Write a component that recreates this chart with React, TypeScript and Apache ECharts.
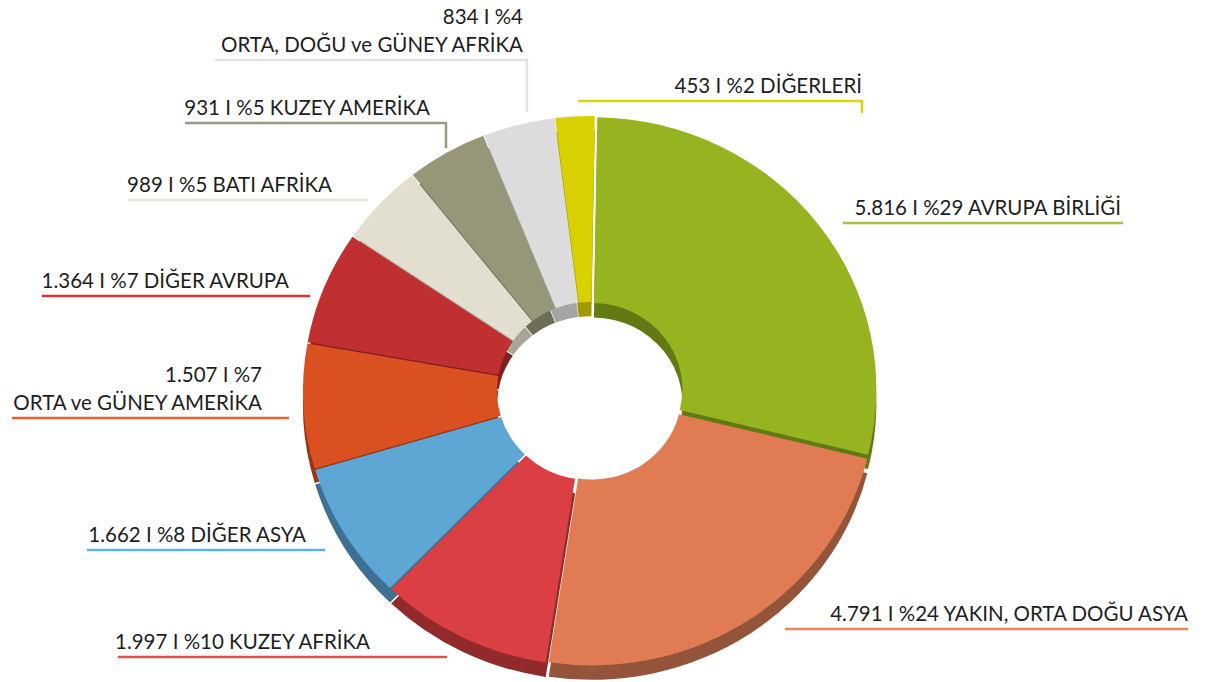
import React, { useEffect, useRef } from "react";
import * as echarts from "echarts";

const names = [
  "AVRUPA BİRLİĞİ",
  "YAKIN, ORTA DOĞU ASYA",
  "KUZEY AFRİKA",
  "DİĞER ASYA",
  "ORTA ve GÜNEY AMERİKA",
  "DİĞER AVRUPA",
  "BATI AFRİKA",
  "KUZEY AMERİKA",
  "ORTA, DOĞU ve GÜNEY AFRİKA",
  "DİĞERLERİ",
];
const values = [5816, 4791, 1997, 1662, 1507, 1364, 989, 931, 834, 453];
const twoLine = [false, false, false, false, true, false, false, false, true, false];

const faceColors = ["#95B420", "#E07B53", "#DA4043", "#5EA7D5", "#DB5020", "#C03030", "#E3DFD0", "#979679", "#DCDCDC", "#D9D000"];
const sideColors = ["#627A14", "#93543A", "#922A2B", "#3F7093", "#963613", "#7F2020", "#A8A596", "#6E6E56", "#A5A5A5", "#A09900"];
const lineColors = ["#A6C43A", "#E8865E", "#E05050", "#5AB4E6", "#E86030", "#D03538", "#EAE6D6", "#9B9A7C", "#E2E2E2", "#DDD400"];

// label layout: [textRight, lineY, lineStart, lineEnd, connectorBottomY or null]
const labelPos: [number, number, number, number, number | null][] = [
  [1121, 223, 843, 1123, null],
  [1188, 629, 785, 1188, null],
  [370, 657, 118, 447, null],
  [306, 550, 87, 325, null],
  [262, 418, 12, 289, null],
  [289, 296, 42, 310, null],
  [332, 200, 128, 368, null],
  [430, 123, 185, 446, 148],
  [523, 60, 215, 527, 112],
  [862, 101, 578, 862, 113],
];

const total = values.reduce((a, b) => a + b, 0);
const fmt = (v: number) => v.toLocaleString("de-DE");

// perspective squash of the pie (vertical / horizontal)
const SQUASH = 0.958;

export default function App() {
  const pieRef = useRef<HTMLDivElement>(null);
  const labelRef = useRef<HTMLDivElement>(null);
  useEffect(() => {
    if (!pieRef.current || !labelRef.current) return;
    const pie = echarts.init(pieRef.current, null, { renderer: "svg" });
    const labels = echarts.init(labelRef.current, null, { renderer: "svg" });
    const center = [590, 391 / SQUASH];
    const radius = [90, 284];

    pie.setOption({
      animation: false,
      backgroundColor: "#ffffff",
      series: [
        {
          type: "pie",
          silent: true,
          z: 1,
          center: [center[0], center[1] + 15],
          radius,
          startAngle: 89,
          selectedMode: "multiple",
          selectedOffset: 3,
          label: { show: false },
          labelLine: { show: false },
          data: values.map((v, i) => ({
            value: v,
            name: names[i],
            selected: true,
            itemStyle: { color: sideColors[i] },
          })),
        },
        {
          type: "pie",
          z: 2,
          center,
          radius,
          startAngle: 89,
          selectedMode: "multiple",
          selectedOffset: 3,
          label: { show: false },
          labelLine: { show: false },
          data: values.map((v, i) => ({
            value: v,
            name: names[i],
            selected: true,
            itemStyle: { color: faceColors[i] },
          })),
        },
      ],
    });

    const graphics: any[] = [];
    values.forEach((v, i) => {
      const [tr, ly, x1, x2, cb] = labelPos[i];
      const head = `${fmt(v)} I %${Math.round((v / total) * 100)}`;
      const text = twoLine[i] ? `${head}\n${names[i]}` : `${head} ${names[i]}`;
      const pts = cb == null ? [[x1, ly], [x2, ly]] : [[x2, cb], [x2, ly], [x1, ly]];
      graphics.push({
        type: "polyline",
        z: 10,
        silent: true,
        shape: { points: pts },
        style: { stroke: lineColors[i], lineWidth: 2.5, fill: null },
      });
      graphics.push({
        type: "text",
        z: 10,
        x: tr,
        y: ly - 2,
        silent: true,
        style: {
          text,
          align: "right",
          verticalAlign: "bottom",
          fontSize: 20.5,
          lineHeight: 28,
          fontFamily: "Lato",
          fill: "#1e1e1e",
        },
      });
    });
    labels.setOption({ animation: false, graphic: graphics });

    return () => {
      pie.dispose();
      labels.dispose();
    };
  }, []);
  return (
    <div style={{ position: "absolute", left: 0, top: 0, width: 1212, height: 682, overflow: "hidden", background: "#fff" }}>
      <div
        ref={pieRef}
        style={{
          position: "absolute",
          left: 0,
          top: 0,
          width: 1212,
          height: 712,
          transform: `scaleY(${SQUASH})`,
          transformOrigin: "0 0",
        }}
      />
      <div
        ref={labelRef}
        style={{ position: "absolute", left: 0, top: 0, width: 1212, height: 682 }}
      />
    </div>
  );
}
